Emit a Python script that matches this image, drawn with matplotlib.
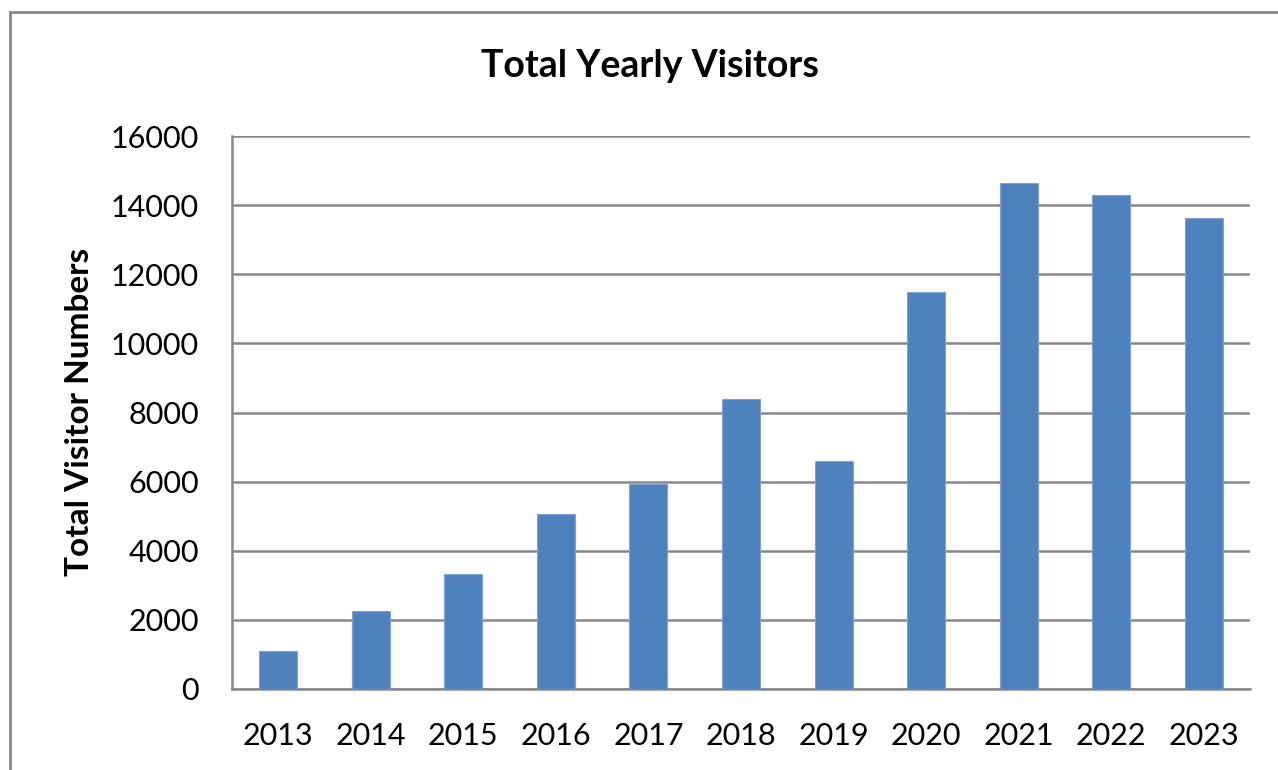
import matplotlib
matplotlib.use("Agg")
import matplotlib.pyplot as plt
from matplotlib.patches import Rectangle

years = ["2013", "2014", "2015", "2016", "2017", "2018", "2019", "2020", "2021", "2022", "2023"]
visitors = [1100, 2250, 3330, 5060, 5930, 8390, 6600, 11490, 14640, 14290, 13630]
yticks = [0, 2000, 4000, 6000, 8000, 10000, 12000, 14000, 16000]

plt.rcParams['font.family'] = ['Lato', 'DejaVu Sans']

fig = plt.figure(figsize=(12.78, 7.7), dpi=100)
ax = fig.add_axes([232/1278, 1-689/770, (1250-232)/1278, (689-136)/770])

x = range(len(years))
ax.bar(x, visitors, width=0.41, color='#4F81BD', edgecolor='#7FA3D3', linewidth=0.8, zorder=3)

ax.set_xlim(-0.5, len(years)-0.5)
ax.set_ylim(0, 16000)
ax.set_yticks(yticks)
ax.set_yticklabels([str(v) for v in yticks])
ax.set_xticks(list(x))
ax.set_xticklabels(years)
ax.tick_params(axis='both', length=0, labelsize=22, colors='black')
ax.tick_params(axis='y', pad=24)
ax.tick_params(axis='x', pad=24)
ax.grid(axis='y', color='#888888', linewidth=1.8, zorder=0)
for s in ['top', 'right']:
    ax.spines[s].set_visible(False)
for s in ['left', 'bottom']:
    ax.spines[s].set_color('#888888')
    ax.spines[s].set_linewidth(1.8)

fig.text(650/1278, 1-66/770, "Total Yearly Visitors", ha='center', va='center', fontsize=27, fontweight='bold')
fig.text(80/1278, 1-412/770, "Total Visitor Numbers", ha='center', va='center', rotation=90, fontsize=24, fontweight='bold')

fig.patches.append(Rectangle((10/1278, -0.1), 1.2, 1-12/770+0.1, transform=fig.transFigure,
                             fill=False, edgecolor='#888888', linewidth=2.0))

fig.savefig("out.png", dpi=100)
